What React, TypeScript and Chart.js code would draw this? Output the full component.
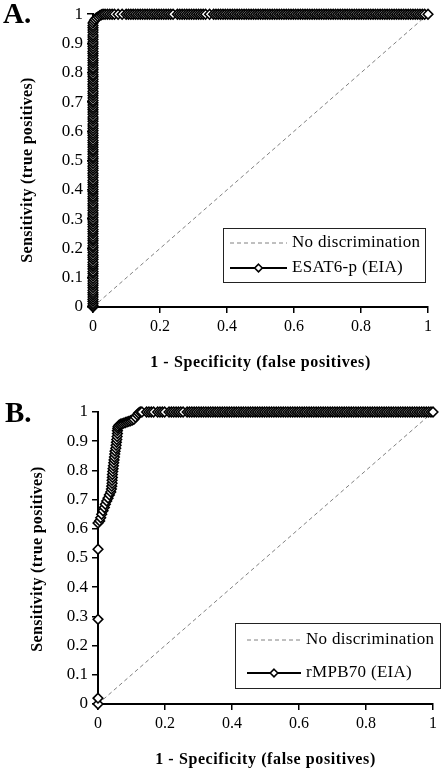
import React, { useEffect, useRef } from 'react';
import { Chart, registerables } from 'chart.js';

Chart.register(...registerables);

// ---------------- DATA ----------------
const diagonalX = [0, 1];
const diagonalY = [0, 1];

const xTickValues = [0, 0.2, 0.4, 0.6, 0.8, 1];
const yTickValues = [0, 0.1, 0.2, 0.3, 0.4, 0.5, 0.6, 0.7, 0.8, 0.9, 1];

// Panel A: ESAT6-p (EIA)
const esatColumnY = [
  0, 0.004, 0.011, 0.019, 0.026, 0.034, 0.042, 0.049, 0.057, 0.066, 0.074, 0.081, 0.089, 0.097,
  0.106, 0.114, 0.121, 0.13, 0.138, 0.145, 0.153, 0.162, 0.17, 0.177, 0.186, 0.194, 0.202, 0.209,
  0.218, 0.226, 0.233, 0.241, 0.25, 0.258, 0.265, 0.274, 0.282, 0.29, 0.297, 0.306, 0.314, 0.321,
  0.33, 0.338, 0.346, 0.353, 0.362, 0.37, 0.377, 0.386, 0.394, 0.401, 0.41, 0.418, 0.426, 0.433,
  0.442, 0.45, 0.457, 0.466, 0.474, 0.481, 0.49, 0.498, 0.506, 0.513, 0.522, 0.53, 0.537, 0.546,
  0.554, 0.562, 0.569, 0.578, 0.586, 0.593, 0.602, 0.61, 0.618, 0.625, 0.634, 0.642, 0.649, 0.658,
  0.666, 0.674, 0.681, 0.69, 0.698, 0.705, 0.714, 0.722, 0.73, 0.737, 0.746, 0.754, 0.761, 0.77,
  0.778, 0.786, 0.793, 0.802, 0.81, 0.817, 0.826, 0.834, 0.842, 0.849, 0.858, 0.866, 0.873, 0.882,
  0.89, 0.898, 0.905, 0.914, 0.922, 0.929, 0.938, 0.946, 0.954, 0.961, 0.97,
];
const esatCornerX = [0.003, 0.006, 0.01, 0.015, 0.02, 0.025, 0.03];
const esatCornerY = [0.976, 0.982, 0.987, 0.991, 0.995, 0.998, 1];
const esatTopX = [
  0.036, 0.043, 0.05, 0.057, 0.064, 0.075, 0.087, 0.099, 0.106, 0.113, 0.12, 0.127, 0.134, 0.141,
  0.148, 0.155, 0.162, 0.169, 0.176, 0.183, 0.19, 0.197, 0.204, 0.211, 0.218, 0.225, 0.232, 0.239,
  0.252, 0.259, 0.266, 0.273, 0.28, 0.287, 0.294, 0.301, 0.308, 0.315, 0.322, 0.329, 0.336, 0.348,
  0.36, 0.367, 0.374, 0.381, 0.388, 0.395, 0.402, 0.409, 0.416, 0.423, 0.43, 0.437, 0.444, 0.451,
  0.458, 0.465, 0.472, 0.479, 0.486, 0.493, 0.5, 0.507, 0.514, 0.521, 0.528, 0.535, 0.542, 0.549,
  0.556, 0.563, 0.57, 0.577, 0.584, 0.591, 0.598, 0.605, 0.612, 0.619, 0.626, 0.633, 0.64, 0.647,
  0.654, 0.661, 0.668, 0.675, 0.682, 0.689, 0.696, 0.703, 0.71, 0.717, 0.724, 0.731, 0.738, 0.745,
  0.752, 0.759, 0.766, 0.773, 0.78, 0.787, 0.794, 0.801, 0.808, 0.815, 0.822, 0.829, 0.836, 0.843,
  0.85, 0.857, 0.864, 0.871, 0.878, 0.885, 0.892, 0.899, 0.906, 0.913, 0.92, 0.927, 0.934, 0.941,
  0.948, 0.955, 0.962, 0.969, 0.976, 0.983, 0.99, 1,
];

// Panel B: rMPB70 (EIA)
const mpbRiseX = [
  0, 0, 0, 0, 0, 0.005, 0.008, 0.011, 0.015, 0.019, 0.022, 0.026, 0.03, 0.034, 0.038, 0.04,
  0.041, 0.042, 0.042, 0.043, 0.043, 0.044, 0.045, 0.046, 0.047, 0.048, 0.049, 0.05, 0.051,
  0.053, 0.054, 0.055, 0.056, 0.057, 0.058, 0.058, 0.059, 0.06, 0.063, 0.067, 0.072, 0.077,
  0.082, 0.087, 0.092, 0.097, 0.102, 0.107, 0.112, 0.117, 0.121, 0.126, 0.131, 0.136,
];
const mpbRiseY = [
  0, 0.02, 0.29, 0.53, 0.62, 0.627, 0.638, 0.65, 0.662, 0.673, 0.684, 0.695, 0.705, 0.716, 0.726,
  0.736, 0.746, 0.756, 0.766, 0.776, 0.786, 0.796, 0.806, 0.816, 0.826, 0.836, 0.846, 0.856,
  0.866, 0.876, 0.886, 0.896, 0.906, 0.916, 0.926, 0.936, 0.944, 0.95, 0.955, 0.958, 0.96, 0.962,
  0.964, 0.966, 0.968, 0.97, 0.972, 0.975, 0.982, 0.99, 0.996, 1, 1,
];
const mpbTopX = [
  0.145, 0.152, 0.159, 0.166, 0.178, 0.185, 0.192, 0.199, 0.212, 0.219, 0.226, 0.233, 0.24, 0.247,
  0.254, 0.266, 0.273, 0.28, 0.287, 0.294, 0.301, 0.308, 0.315, 0.322, 0.329, 0.336, 0.343, 0.35,
  0.357, 0.364, 0.371, 0.378, 0.385, 0.392, 0.399, 0.406, 0.413, 0.42, 0.427, 0.434, 0.441, 0.448,
  0.455, 0.462, 0.469, 0.476, 0.483, 0.49, 0.497, 0.504, 0.511, 0.518, 0.525, 0.532, 0.539, 0.546,
  0.553, 0.56, 0.567, 0.574, 0.581, 0.588, 0.595, 0.602, 0.609, 0.616, 0.623, 0.63, 0.637, 0.644,
  0.651, 0.658, 0.665, 0.672, 0.679, 0.686, 0.693, 0.7, 0.707, 0.714, 0.721, 0.728, 0.735, 0.742,
  0.749, 0.756, 0.763, 0.77, 0.777, 0.784, 0.791, 0.798, 0.805, 0.812, 0.819, 0.826, 0.833, 0.84,
  0.847, 0.854, 0.861, 0.868, 0.875, 0.882, 0.889, 0.896, 0.903, 0.91, 0.917, 0.924, 0.931, 0.938,
  0.945, 0.952, 0.959, 0.966, 0.973, 0.98, 0.987, 0.994, 1,
];

// ---------------- BUILD POINTS ----------------
const zip = (xs: number[], ys: number[]) => xs.map((x, i) => ({ x, y: ys[i] }));
const diagonalPoints = zip(diagonalX, diagonalY);
const esatPoints = [
  ...esatColumnY.map((y) => ({ x: 0, y })),
  ...zip(esatCornerX, esatCornerY),
  ...esatTopX.map((x) => ({ x, y: 1 })),
];
const mpbPoints = [...zip(mpbRiseX, mpbRiseY), ...mpbTopX.map((x) => ({ x, y: 1 }))];

const SERIF = '"Liberation Serif", "Times New Roman", serif';
const W = 443;
const H = 386;

const setSpacing = (ctx: any, v: string) => {
  try { ctx.letterSpacing = v; } catch (e) {}
};

const decorPlugin = {
  id: 'rocDecor',
  afterDraw(chart: any, _args: any, o: any) {
    const { ctx, chartArea: ca } = chart;
    ctx.save();
    ctx.fillStyle = '#000';
    // panel letter
    ctx.font = `bold 29px ${SERIF}`;
    ctx.textAlign = 'left';
    ctx.textBaseline = 'alphabetic';
    ctx.fillText(o.panel, o.panelX, o.panelY);
    // x title
    ctx.font = `bold 16px ${SERIF}`;
    setSpacing(ctx, '0.6px');
    ctx.textAlign = 'center';
    ctx.textBaseline = 'middle';
    ctx.fillText(o.xTitle, (ca.left + ca.right) / 2, ca.bottom + o.xTitleGap);
    // y title
    ctx.font = `bold 16px ${SERIF}`;
    setSpacing(ctx, '0.3px');
    ctx.save();
    ctx.translate(o.yTitleX, o.yTitleY);
    ctx.rotate(-Math.PI / 2);
    ctx.fillText(o.yTitle, 0, 0);
    ctx.restore();
    setSpacing(ctx, '0px');
    // legend
    const L = o.legend;
    ctx.fillStyle = '#fff';
    ctx.fillRect(L.x, L.y, L.w, L.h);
    ctx.strokeStyle = '#222';
    ctx.lineWidth = 1;
    ctx.strokeRect(L.x + 0.5, L.y + 0.5, L.w, L.h);
    const ds = chart.data.datasets;
    L.rows.forEach((row: any) => {
      const d = ds[row.dataset];
      const cy = row.y;
      ctx.save();
      ctx.strokeStyle = d.borderColor;
      ctx.lineWidth = d.borderWidth;
      ctx.setLineDash(d.borderDash || []);
      ctx.beginPath();
      ctx.moveTo(L.lineX0, cy);
      ctx.lineTo(L.lineX1, cy);
      ctx.stroke();
      ctx.restore();
      if (d.pointRadius > 0) {
        const cx = (L.lineX0 + L.lineX1) / 2;
        const r = 3.8;
        ctx.beginPath();
        ctx.moveTo(cx, cy - r);
        ctx.lineTo(cx + r, cy);
        ctx.lineTo(cx, cy + r);
        ctx.lineTo(cx - r, cy);
        ctx.closePath();
        ctx.fillStyle = d.pointBackgroundColor;
        ctx.fill();
        ctx.strokeStyle = d.pointBorderColor;
        ctx.lineWidth = d.pointBorderWidth;
        ctx.stroke();
      }
      ctx.fillStyle = '#000';
      ctx.font = `17px ${SERIF}`;
      setSpacing(ctx, '0.3px');
      ctx.textAlign = 'left';
      ctx.textBaseline = 'middle';
      ctx.fillText(d.label, L.textX, cy);
      setSpacing(ctx, '0px');
    });
    ctx.restore();
  },
};

type PanelCfg = {
  panel: string;
  panelX: number;
  panelY: number;
  rocLabel: string;
  rocPoints: { x: number; y: number }[];
  pointRadius: number;
  yAxisWidth: number;
  xAxisHeight: number;
  padTop: number;
  padRight: number;
  yTitleX: number;
  yTitleY: number;
  xTitleGap: number;
  legend: any;
};

function RocPanel({ cfg }: { cfg: PanelCfg }) {
  const ref = useRef<HTMLCanvasElement>(null);
  useEffect(() => {
    if (!ref.current) return;
    const chart = new Chart(ref.current, {
      type: 'scatter',
      data: {
        datasets: [
          {
            label: cfg.rocLabel,
            data: cfg.rocPoints,
            showLine: true,
            borderColor: '#000',
            borderWidth: 2,
            pointStyle: 'rectRot',
            pointRadius: cfg.pointRadius,
            pointBackgroundColor: '#fff',
            pointBorderColor: '#000',
            pointBorderWidth: 1.6,
            clip: false,
            order: 0,
          } as any,
          {
            label: 'No discrimination',
            data: diagonalPoints,
            showLine: true,
            borderColor: '#808080',
            borderWidth: 1,
            borderDash: [4, 3],
            pointRadius: 0,
            clip: false,
            order: 1,
          } as any,
        ],
      },
      options: {
        animation: false,
        responsive: false,
        devicePixelRatio: 1,
        layout: { padding: { top: cfg.padTop, right: cfg.padRight, left: 0, bottom: 0 } },
        plugins: {
          legend: { display: false },
          tooltip: { enabled: false },
          rocDecor: {
            panel: cfg.panel,
            panelX: cfg.panelX,
            panelY: cfg.panelY,
            xTitle: '1 - Specificity (false positives)',
            yTitle: 'Sensitivity (true positives)',
            yTitleX: cfg.yTitleX,
            yTitleY: cfg.yTitleY,
            xTitleGap: cfg.xTitleGap,
            legend: cfg.legend,
          },
        } as any,
        scales: {
          x: {
            type: 'linear',
            min: 0,
            max: 1,
            afterBuildTicks: (axis: any) => {
              axis.ticks = xTickValues.map((v) => ({ value: v }));
            },
            afterFit: (axis: any) => {
              axis.height = cfg.xAxisHeight;
            },
            grid: { display: true, drawOnChartArea: false, drawTicks: true, tickLength: 6, color: '#000', lineWidth: 1.5 },
            border: { display: true, color: '#000', width: 2 },
            ticks: {
              color: '#000',
              font: { family: SERIF, size: 16 },
              padding: 4,
              maxRotation: 0,
              autoSkip: false,
              callback: (v: any) => String(Math.round(Number(v) * 10) / 10),
            },
          },
          y: {
            type: 'linear',
            min: 0,
            max: 1,
            afterBuildTicks: (axis: any) => {
              axis.ticks = yTickValues.map((v) => ({ value: v }));
            },
            afterFit: (axis: any) => {
              axis.width = cfg.yAxisWidth;
            },
            grid: { display: true, drawOnChartArea: false, drawTicks: true, tickLength: 6, color: '#000', lineWidth: 1.5 },
            border: { display: true, color: '#000', width: 2 },
            ticks: {
              color: '#000',
              font: { family: SERIF, size: 17 },
              padding: 4,
              autoSkip: false,
              callback: (v: any) => String(Math.round(Number(v) * 10) / 10),
            },
          },
        },
      },
      plugins: [decorPlugin as any],
    } as any);
    return () => chart.destroy();
  }, [cfg]);
  return <canvas ref={ref} width={W} height={H} style={{ display: 'block', width: W, height: H }} />;
}

const panelA: PanelCfg = {
  panel: 'A.',
  panelX: 3,
  panelY: 23,
  rocLabel: 'ESAT6-p (EIA)',
  rocPoints: esatPoints,
  pointRadius: 4.8,
  yAxisWidth: 93,
  xAxisHeight: 79,
  padTop: 14,
  padRight: 15,
  yTitleX: 28,
  yTitleY: 170,
  xTitleGap: 56,
  legend: {
    x: 223, y: 228, w: 202, h: 54,
    lineX0: 230, lineX1: 287, textX: 292,
    rows: [{ dataset: 1, y: 243 }, { dataset: 0, y: 268 }],
  },
};

const panelB: PanelCfg = {
  panel: 'B.',
  panelX: 5,
  panelY: 36,
  rocLabel: 'rMPB70 (EIA)',
  rocPoints: mpbPoints,
  pointRadius: 4.8,
  yAxisWidth: 98,
  xAxisHeight: 68,
  padTop: 26,
  padRight: 10,
  yTitleX: 38,
  yTitleY: 173,
  xTitleGap: 56,
  legend: {
    x: 235, y: 237, w: 205, h: 65,
    lineX0: 247, lineX1: 301, textX: 306,
    rows: [{ dataset: 1, y: 254 }, { dataset: 0, y: 287 }],
  },
};

export default function App() {
  return (
    <div style={{ position: 'absolute', left: 0, top: 0, width: W, height: 2 * H, background: '#fff' }}>
      <RocPanel cfg={panelA} />
      <RocPanel cfg={panelB} />
    </div>
  );
}
